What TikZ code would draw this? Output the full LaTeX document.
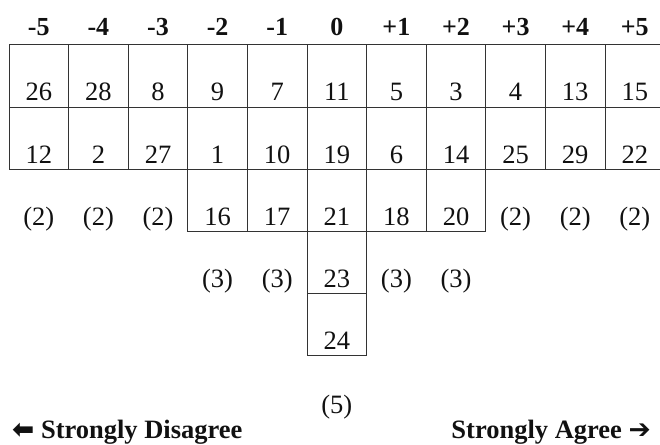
\documentclass[tikz,border=0pt]{standalone}
\usepackage{fontspec}
\setmainfont{Liberation Serif}
\newfontfamily\arrowfont{DejaVu Sans}
\usetikzlibrary{positioning}
\definecolor{QSline}{HTML}{333333}
\definecolor{QSink}{HTML}{111111}
\tikzset{
  qcell/.style={
    rectangle, draw=QSline, line width=1pt, inner sep=0pt, outer sep=0pt,
    minimum width=59.6pt, minimum height=62.2pt, text height=56pt, text depth=6.2pt,
    text=QSink, font=\fontsize{26.5}{30}\selectfont},
  qcount/.style={qcell, draw=none},
  qhead/.style={inner sep=0pt, text height=17pt, text depth=0pt, text=QSink,
    font=\fontsize{26}{30}\selectfont\bfseries},
  qend/.style={inner sep=0pt, text=QSink, font=\fontsize{26.5}{30}\selectfont\bfseries},
}

\begin{document}
\begin{tikzpicture}[node distance=0pt]
  \useasboundingbox (0,0) rectangle (660pt,444pt);
  %% Row 1
  \node[qcell] (r1m5) at (38.8pt,367.9pt) {26};
  \node[qcell, right=of r1m5] (r1m4) {28};
  \node[qcell, right=of r1m4] (r1m3) {8};
  \node[qcell, right=of r1m3] (r1m2) {9};
  \node[qcell, right=of r1m2] (r1m1) {7};
  \node[qcell, right=of r1m1] (r1z)  {11};
  \node[qcell, right=of r1z]  (r1p1) {5};
  \node[qcell, right=of r1p1] (r1p2) {3};
  \node[qcell, right=of r1p2] (r1p3) {4};
  \node[qcell, right=of r1p3] (r1p4) {13};
  \node[qcell, right=of r1p4] (r1p5) {15};
  %% Column heads
  \node[qhead, above=9.5pt of r1m5] (hm5) {-5};
  \node[qhead, above=9.5pt of r1m4] (hm4) {-4};
  \node[qhead, above=9.5pt of r1m3] (hm3) {-3};
  \node[qhead, above=9.5pt of r1m2] (hm2) {-2};
  \node[qhead, above=9.5pt of r1m1] (hm1) {-1};
  \node[qhead, above=9.5pt of r1z]  (hz)  {0};
  \node[qhead, above=9.5pt of r1p1] (hp1) {+1};
  \node[qhead, above=9.5pt of r1p2] (hp2) {+2};
  \node[qhead, above=9.5pt of r1p3] (hp3) {+3};
  \node[qhead, above=9.5pt of r1p4] (hp4) {+4};
  \node[qhead, above=9.5pt of r1p5] (hp5) {+5};
  %% Row 2
  \node[qcell, below=of r1m5] (r2m5) {12};
  \node[qcell, below=of r1m4] (r2m4) {2};
  \node[qcell, below=of r1m3] (r2m3) {27};
  \node[qcell, below=of r1m2] (r2m2) {1};
  \node[qcell, below=of r1m1] (r2m1) {10};
  \node[qcell, below=of r1z]  (r2z)  {19};
  \node[qcell, below=of r1p1] (r2p1) {6};
  \node[qcell, below=of r1p2] (r2p2) {14};
  \node[qcell, below=of r1p3] (r2p3) {25};
  \node[qcell, below=of r1p4] (r2p4) {29};
  \node[qcell, below=of r1p5] (r2p5) {22};
  %% Row 3
  \node[qcount, below=of r2m5] (r3m5) {(2)};
  \node[qcount, below=of r2m4] (r3m4) {(2)};
  \node[qcount, below=of r2m3] (r3m3) {(2)};
  \node[qcell,  below=of r2m2] (r3m2) {16};
  \node[qcell,  below=of r2m1] (r3m1) {17};
  \node[qcell,  below=of r2z]  (r3z)  {21};
  \node[qcell,  below=of r2p1] (r3p1) {18};
  \node[qcell,  below=of r2p2] (r3p2) {20};
  \node[qcount, below=of r2p3] (r3p3) {(2)};
  \node[qcount, below=of r2p4] (r3p4) {(2)};
  \node[qcount, below=of r2p5] (r3p5) {(2)};
  %% Row 4
  \node[qcount, below=of r3m2] (r4m2) {(3)};
  \node[qcount, below=of r3m1] (r4m1) {(3)};
  \node[qcell,  below=of r3z]  (r4z)  {23};
  \node[qcount, below=of r3p1] (r4p1) {(3)};
  \node[qcount, below=of r3p2] (r4p2) {(3)};
  %% Row 5 and 6
  \node[qcell,  below=of r4z] (r5z) {24};
  \node[qcount, below=1.5pt of r5z] (r6z) {(5)};
  %% Scale ends
  \node[qend, anchor=base west] (sdis) at (12pt,5.5pt)
        {{\arrowfont\bfseries ⬅}\hspace{0.25em}Strongly Disagree};
  \node[qend, anchor=base east] (sagr) at (651pt,5.5pt)
        {Strongly Agree\hspace{0.25em}{\arrowfont\bfseries ➔}};
\end{tikzpicture}
\end{document}
